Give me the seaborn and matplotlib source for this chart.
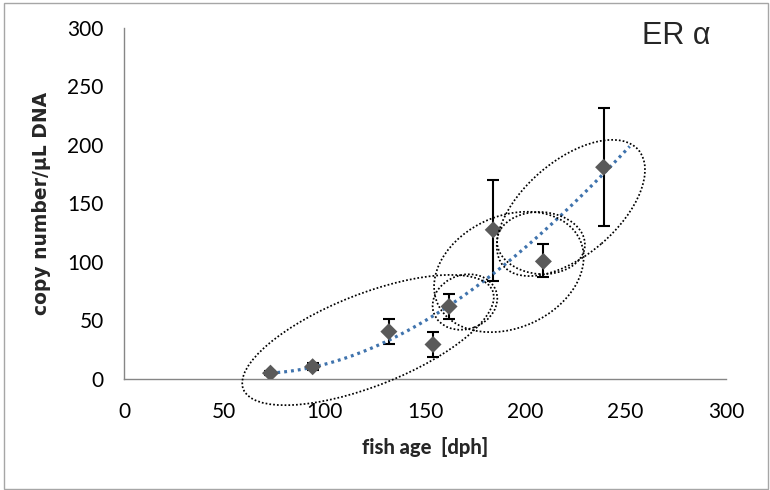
import numpy as np
import pandas as pd
import seaborn as sns
import matplotlib.pyplot as plt
from matplotlib.patches import Ellipse, Rectangle
from matplotlib.transforms import Affine2D, ScaledTranslation

# ER alpha copy number against fish age
age = [73, 94, 132, 154, 162, 184, 209, 239]
copies = [5, 10.5, 40.5, 29.5, 62, 127.5, 100.5, 181]
err_low = [3.5, 8, 29.5, 18.5, 51.5, 84, 87, 130.5]
err_high = [6.5, 13.5, 51, 40.5, 72.5, 170.5, 115, 231.5]

x_ticks = [0, 50, 100, 150, 200, 250, 300]
y_ticks = [0, 50, 100, 150, 200, 250, 300]
trend_end = 252

df = pd.DataFrame({"age": age, "copies": copies})

sns.set_style("white")
plt.rcParams["font.family"] = ["Lato", "DejaVu Sans"]

fig = plt.figure(figsize=(7.7, 4.9), dpi=100)
ax = fig.add_axes([124 / 770, 1 - 379 / 490, 602 / 770, 351 / 490])

# polynomial trend line (order 3)
coef = np.polyfit(age, copies, 3)
xs = np.linspace(min(age), trend_end, 200)
trend = pd.DataFrame({"age": xs, "copies": np.polyval(coef, xs)})
sns.lineplot(data=trend, x="age", y="copies", ax=ax, color="#3f73ad",
             lw=2.3, zorder=3)
ax.lines[-1].set_dashes((0.9, 1.25))
ax.lines[-1].set_dash_capstyle("butt")

# error bars
lo = np.array(copies) - np.array(err_low)
hi = np.array(err_high) - np.array(copies)
ax.errorbar(age, copies, yerr=[lo, hi], fmt="none", ecolor="black",
            elinewidth=1.5, capsize=4.0, capthick=1.5, zorder=2)

# measured points
sns.scatterplot(data=df, x="age", y="copies", ax=ax, marker="D", s=75,
                color="#5a5a5a", edgecolor="none", zorder=4)

# dotted outlines around groups of ages (centre in data, size in pixels)
groups = [
    ((121.6, 33.3), 134, 46, 21.5),
    ((169.9, 65.8), 33, 27, 20),
    ((191.8, 91.5), 78, 56, 24),
    ((207.8, 116.2), 44, 31, -4),
    ((222.7, 146.2), 89, 47, 40.7),
]
for (cx, cy), a, b, ang in groups:
    tr = (Affine2D().scale(1 / 100) + fig.dpi_scale_trans
          + ScaledTranslation(cx, cy, ax.transData))
    ax.add_patch(Ellipse((0, 0), 2 * a, 2 * b, angle=ang, transform=tr,
                         fill=False, ec="black", lw=1.25,
                         ls=(0, (1, 1.2)), zorder=5, clip_on=False))

ax.set_xlim(0, 300)
ax.set_ylim(0, 300)
ax.set_xticks(x_ticks)
ax.set_yticks(y_ticks)
ax.tick_params(axis="both", direction="out", length=4.5, width=1,
               color="#868686", labelsize=15, labelcolor="black")
ax.tick_params(axis="y", pad=10)
ax.tick_params(axis="x", pad=12)
for side in ["top", "right"]:
    ax.spines[side].set_visible(False)
for side in ["left", "bottom"]:
    ax.spines[side].set_color("#868686")
    ax.spines[side].set_linewidth(1)

ax.set_xlabel("fish age  [dph]", fontsize=14.5, fontweight="black")
ax.xaxis.set_label_coords(0.5, (379 - 437) / 351)
ax.set_ylabel("copy number/µL DNA", fontsize=13.5, fontweight="bold",
              family=["DejaVu Sans"], va="center")
ax.yaxis.set_label_coords((42 - 124) / 602, 0.5)

fig.text(642 / 770, 1 - 44 / 490, "ER α", fontsize=22,
         family=["Liberation Sans", "DejaVu Sans"], va="baseline")

fig.patches.append(Rectangle((3.5 / 770, 1.5 / 490), 764.5 / 770, 485 / 490,
                             transform=fig.transFigure, fill=False,
                             ec="#a6a6a6", lw=1))

fig.savefig("out.png", dpi=100)
